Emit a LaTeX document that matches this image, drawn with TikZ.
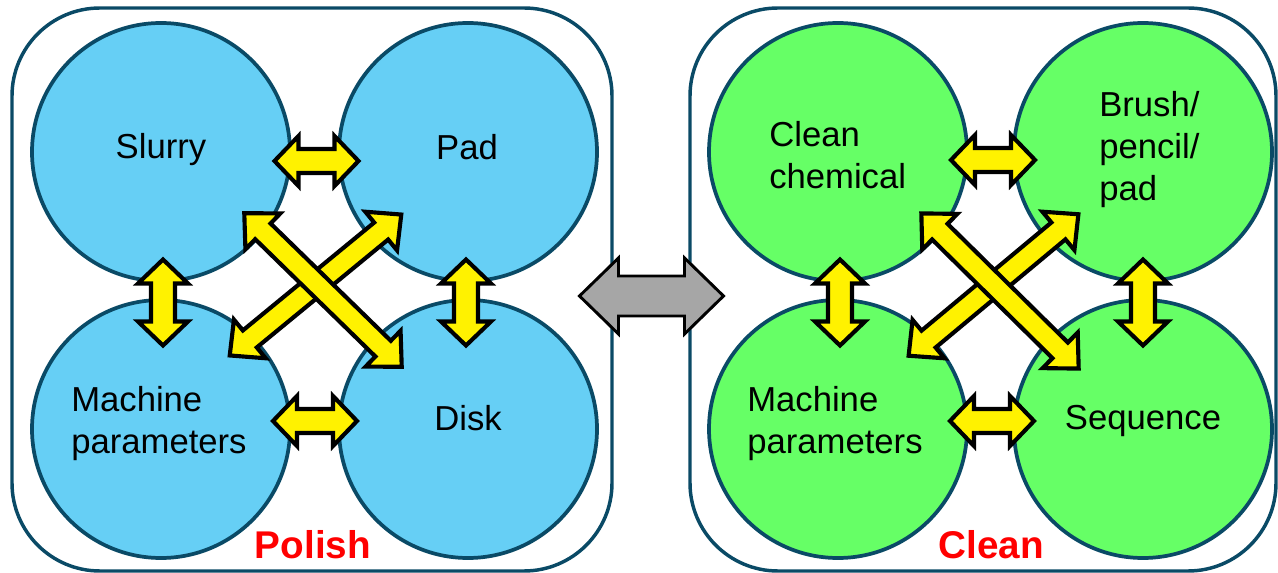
\documentclass[tikz,border=0pt]{standalone}
\usepackage{fontspec}
\setmainfont{Liberation Sans}
\definecolor{edge}{RGB}{10,74,102}
\definecolor{bluefill}{RGB}{102,207,245}
\definecolor{greenfill}{RGB}{102,255,102}
\definecolor{arrowgray}{RGB}{166,166,166}
% #1 style, #2 centre, #3 angle, #4 half length, #5 shaft half width, #6 head half width, #7 head length
\newcommand{\dbarrow}[7]{%
  \draw[#1,shift={#2},rotate=#3] (-#4,0) -- (-#4+#7,#6) -- (-#4+#7,#5) -- (#4-#7,#5) -- (#4-#7,#6) -- (#4,0)
    -- (#4-#7,-#6) -- (#4-#7,-#5) -- (-#4+#7,-#5) -- (-#4+#7,-#6) -- cycle;}
\begin{document}
\begin{tikzpicture}[x=0.75pt,y=-0.75pt,
  panel/.style={draw=edge,line width=2.6pt,rounded corners=66pt},
  blob/.style={circle,draw=edge,line width=2.8pt,minimum size=193.5pt,inner sep=0pt},
  lbl/.style={inner sep=0pt,font=\fontsize{26}{31.5}\selectfont},
  ttl/.style={inner sep=0pt,text=red,font=\fontsize{29}{34}\selectfont\bfseries},
  yarrow/.style={draw=black,fill=yellow,line width=3.1pt,line join=miter},
  garrow/.style={draw=black,fill=arrowgray,line width=2.2pt,line join=miter}]
\useasboundingbox (0,0) rectangle (1278,573);
% panels
\draw[panel] (12,8) rectangle (612,571);
\draw[panel] (690,8) rectangle (1276,571);
% circles left
\node[blob,fill=bluefill] (slurry) at (161,152) {};
\node[blob,fill=bluefill] (pad) at (468,152) {};
\node[blob,fill=bluefill] (mach) at (161,429) {};
\node[blob,fill=bluefill] (disk) at (468,429) {};
% circles right
\node[blob,fill=greenfill] (chem) at (838,152) {};
\node[blob,fill=greenfill] (brush) at (1143,152) {};
\node[blob,fill=greenfill] (mach2) at (838,429) {};
\node[blob,fill=greenfill] (seq) at (1143,429) {};
% yellow arrows left
\dbarrow{yarrow}{(316.5,161)}{0}{42}{12}{25}{24}
\dbarrow{yarrow}{(315,421)}{0}{42}{12}{25}{24}
\dbarrow{yarrow}{(163,302.5)}{90}{43}{12}{25}{24}
\dbarrow{yarrow}{(466,302.5)}{90}{43}{12}{25}{24}
\dbarrow{yarrow}{(315.5,285)}{39.4}{111}{11}{25}{26}
\dbarrow{yarrow}{(323,290)}{-44.3}{110}{11}{25}{26}
% yellow arrows right
\dbarrow{yarrow}{(993,160)}{0}{42}{12}{25}{24}
\dbarrow{yarrow}{(992,421)}{0}{42}{12}{25}{24}
\dbarrow{yarrow}{(840,302.5)}{90}{43}{12}{25}{24}
\dbarrow{yarrow}{(1143,302.5)}{90}{43}{12}{25}{24}
\dbarrow{yarrow}{(993.5,285)}{39.8}{110.5}{11}{25}{26}
\dbarrow{yarrow}{(1000,291)}{-44.6}{110.5}{11}{25}{26}
% grey centre arrow
\dbarrow{garrow}{(651.5,296)}{0}{72}{20}{38}{39}
% labels
\node[lbl] (t1) at (161,150) {Slurry};
\node[lbl] (t2) at (467,147) {Pad};
\node[lbl,align=left,anchor=west] (t3) at (71,424) {Machine\\parameters};
\node[lbl] (t4) at (468,418) {Disk};
\node[lbl,align=left,anchor=west] (t5) at (769,155) {Clean\\chemical};
\node[lbl,align=left,anchor=west] (t6) at (1099,150) {Brush/\\pencil/\\pad};
\node[lbl,align=left,anchor=west] (t7) at (747,424) {Machine\\parameters};
\node[lbl] (t8) at (1143,421) {Sequence};
\node[ttl] (polish) at (313,545) {Polish};
\node[ttl] (clean) at (991,545) {Clean};
\end{tikzpicture}
\end{document}
